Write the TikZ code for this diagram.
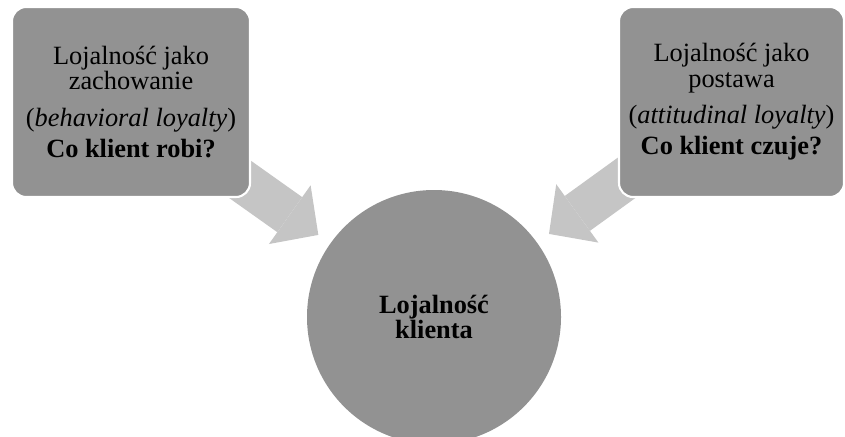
\documentclass[tikz,border=0pt]{standalone}
\usepackage{fontspec}
\setmainfont{Liberation Serif}
\usepackage{xcolor}
\definecolor{boxgray}{RGB}{146,146,146}
\definecolor{arrowgray}{RGB}{197,197,197}
\usepackage{tikz}
\usetikzlibrary{arrows.meta, backgrounds}

\begin{document}
\begin{tikzpicture}[
  typ/.style={
    rectangle, rounded corners=8pt, draw=white, line width=1.2pt, fill=boxgray,
    minimum height=3.8cm, align=center, inner sep=1pt,
    font=\fontsize{15}{14.5}\selectfont
  },
  kolo/.style={
    circle, fill=boxgray, minimum size=5.08cm, align=center,
    font=\fontsize{15}{13.3}\selectfont\bfseries
  },
  blok/.style={
    draw=arrowgray, line width=0.86cm,
    -{Triangle[width=1.44cm, length=0.7cm, line width=0pt 0 0]},
    shorten >=0.29cm
  },
]
\useasboundingbox (0,0) rectangle (16.9,-8.72);

%% Dwa typy lojalnosci
\node[typ, minimum width=4.76cm] (zach) at (2.62,-2.04)
  {Lojalność jako\\zachowanie\\[0.22cm](\textit{behavioral loyalty})\\[0.11cm]\textbf{Co klient robi?}};
\node[typ, minimum width=4.5cm]  (post) at (14.63,-2.04)
  {Lojalność jako\\postawa\\[0.22cm](\textit{attitudinal loyalty})\\[0.11cm]\textbf{Co klient czuje?}};

%% Kolo
\node[kolo] (klient) at (8.68,-6.34) {Lojalność\\klienta};

%% Strzalki pod prostokatami
\begin{scope}[on background layer]
\draw[blok] (zach.center) -- (klient);
\draw[blok] (post.center) -- (klient);
\end{scope}

\end{tikzpicture}
\end{document}
